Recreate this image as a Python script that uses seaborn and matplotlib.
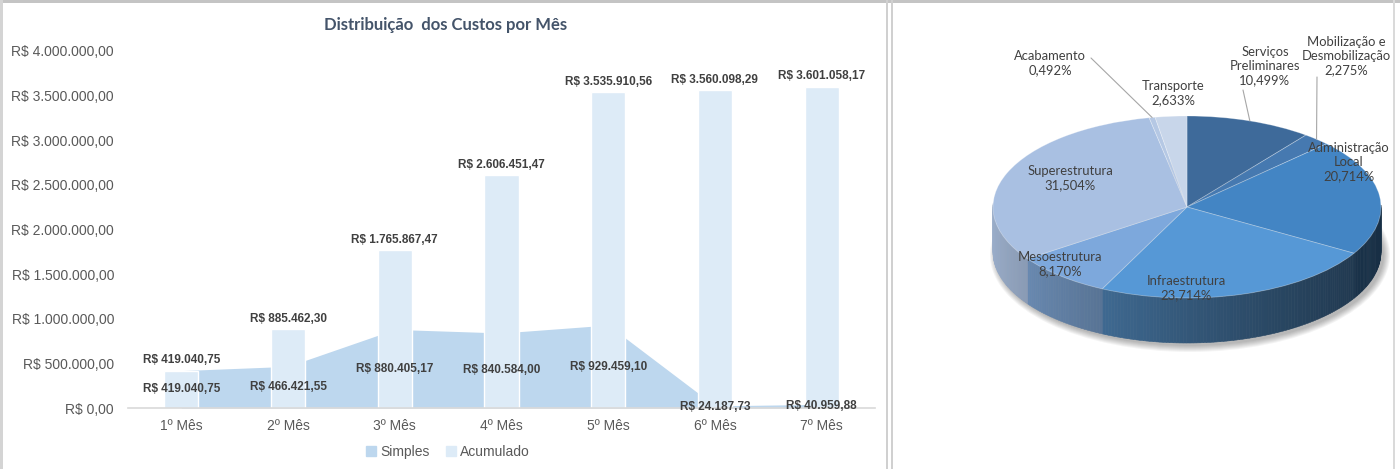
import numpy as np
import pandas as pd
import matplotlib
matplotlib.use("Agg")
import matplotlib.pyplot as plt
import seaborn as sns
from matplotlib.patches import Patch, Rectangle, Polygon, Ellipse
from matplotlib.transforms import Affine2D
from matplotlib.colors import to_rgb

# dados - custos por mes
meses = ["1º Mês", "2º Mês", "3º Mês", "4º Mês", "5º Mês", "6º Mês", "7º Mês"]
simples = [419040.75, 466421.55, 880405.17, 840584.00, 929459.10, 24187.73, 40959.88]
acumulado = [419040.75, 885462.30, 1765867.47, 2606451.47, 3535910.56, 3560098.29, 3601058.17]
y_ticks = [0, 500000, 1000000, 1500000, 2000000, 2500000, 3000000, 3500000, 4000000]

# dados - distribuicao por etapa
etapas = ["Serviços\nPreliminares", "Mobilização e\nDesmobilização", "Administração\nLocal",
          "Infraestrutura", "Mesoestrutura", "Superestrutura", "Acabamento", "Transporte"]
percentuais = [10.499, 2.275, 20.714, 23.714, 8.170, 31.504, 0.492, 2.633]
cores = ["#3E6A9A", "#4679B0", "#4385C4", "#5698D6", "#7DA8DC", "#A9C0E2", "#B5C8E4", "#C8D6EA"]


def brl(v):
    s = f"{v:,.2f}"
    return "R$ " + s.replace(",", "X").replace(".", ",").replace("X", ".")


sns.set_theme(style="white")
plt.rcParams["font.family"] = ["Liberation Sans", "DejaVu Sans"]

W, H = 1400, 469
fig = plt.figure(figsize=(W / 100, H / 100), dpi=100)

# molduras
fig.add_artist(Rectangle((0, 1 - 3 / H), 1, 3 / H, transform=fig.transFigure, color="#C4C4C4", lw=0))
fig.add_artist(Rectangle((0, 0), 3 / W, 1, transform=fig.transFigure, color="#D4D4D4", lw=0))
fig.add_artist(Rectangle((886 / W, 0), 2 / W, 1, transform=fig.transFigure, color="#D0D0D0", lw=0))
fig.add_artist(Rectangle((891 / W, 0), 2 / W, 1, transform=fig.transFigure, color="#D0D0D0", lw=0))
fig.add_artist(Rectangle((1393 / W, 0), 2 / W, 1, transform=fig.transFigure, color="#DADADA", lw=0))

# ---------------- grafico de colunas + area ----------------
ax = fig.add_axes([128 / W, 61 / H, 747 / W, 357 / H])
df = pd.DataFrame({"mes": meses, "simples": simples, "acumulado": acumulado})

sns.barplot(data=df, x="mes", y="acumulado", color="#DDEBF7", saturation=1,
            width=0.32, ax=ax, zorder=2)
ax.fill_between(np.arange(len(meses)), df["simples"], color="#BDD7EE", lw=0, zorder=1)

ax.set_xlim(-0.5, len(meses) - 0.5)
ax.set_ylim(0, 4000000)
ax.set_yticks(y_ticks)
ax.set_yticklabels([brl(v) for v in y_ticks])
ax.set_xlabel("")
ax.set_ylabel("")
ax.tick_params(axis="both", length=0, labelsize=10, labelcolor="#595959")
ax.tick_params(axis="y", pad=10)
ax.tick_params(axis="x", pad=8)
for s in ["top", "right", "left"]:
    ax.spines[s].set_visible(False)
ax.spines["bottom"].set_color("#D9D9D9")
ax.spines["bottom"].set_linewidth(1.2)

for i, v in enumerate(acumulado):
    ax.annotate(brl(v), (i, v), xytext=(0, 3), textcoords="offset points",
                ha="center", va="bottom", fontsize=8.5, fontweight="bold", color="#404040", zorder=5)
for i, v in enumerate(simples):
    ax.text(i, v / 2, brl(v), ha="center", va="center", fontsize=8.5,
            fontweight="bold", color="#404040", zorder=5)

fig.text(446 / W, 1 - 25 / H, "Distribuição  dos Custos por Mês", ha="center", va="center",
         fontsize=12, fontweight="bold", color="#44546A", family=["Lato", "DejaVu Sans"])

handles = [Patch(color="#BDD7EE", label="Simples"), Patch(color="#DDEBF7", label="Acumulado")]
leg = fig.legend(handles=handles, loc="center", bbox_to_anchor=(448 / W, 1 - 452 / H), ncol=2,
                 frameon=False, handlelength=0.7, handleheight=0.7, handletextpad=0.3,
                 columnspacing=1.2, fontsize=10)
for t in leg.get_texts():
    t.set_color("#595959")

# ---------------- pizza 3D ----------------
ax2 = fig.add_axes([893 / W, 0, 500 / W, 465 / H])
CX, CY = 1187, H - 207
RX, RY, DEPTH = 194, 91, 45

wedges, _ = ax2.pie(percentuais, startangle=90, counterclock=False, radius=RX, center=(CX, CY),
                    colors=cores, wedgeprops=dict(lw=0.6, edgecolor=(1, 1, 1, 0.3)))
ax2.set_xlim(893, 1393)
ax2.set_ylim(0, 465)
ax2.set_aspect("auto")
ax2.axis("off")

achata = Affine2D().translate(-CX, -CY).scale(1, RY / RX).translate(CX, CY)
for w in wedges:
    w.set_transform(achata + ax2.transData)
    w.set_zorder(3)


def borda(t, dy=0.0):
    r = np.radians(t)
    return (CX + RX * np.cos(r), CY + RY * np.sin(r) - dy)


# sombra
for k in range(7):
    ax2.add_patch(Ellipse((CX + 3, CY - DEPTH - 3), 2 * RX + 2 * k, 2 * RY + 2 * k,
                          color="black", alpha=0.045, lw=0, zorder=0))

# lateral
for w, c in zip(wedges, cores):
    base = np.array(to_rgb(c))
    ts = np.linspace(w.theta1, w.theta2, max(2, int((w.theta2 - w.theta1) / 1.0) + 2))
    for a, b in zip(ts[:-1], ts[1:]):
        m = np.radians((a + b) / 2)
        if np.sin(m) > 0.03:
            continue
        t = (np.cos(m) + 1) / 2
        f = 0.85 - 0.5 * t ** 0.7
        cor = np.clip(base * f + 0.04 * (1 - t), 0, 1)
        pts = [borda(a), borda(b), borda(b, DEPTH), borda(a, DEPTH)]
        ax2.add_patch(Polygon(pts, closed=True, facecolor=cor, edgecolor=cor, lw=0.4, zorder=1))

# rotulos
pos_rotulos = [(1265, 66), (1346, 56), (1349, 162), (1186, 288),
               (1060, 264), (1070, 178), (1050, 63), (1173, 93)]
for nome, p, (px, py) in zip(etapas, percentuais, pos_rotulos):
    ax2.text(px, H - py, f"{nome}\n{p:.3f}%".replace(".", ","), ha="center", va="center",
             fontsize=9.4, color="#404040", linespacing=1.2, zorder=6,
             family=["Lato", "DejaVu Sans"])

guias = {0: (1243, 90), 1: (1317, 77), 6: (1091, 58)}
for i, (px, py) in guias.items():
    w = wedges[i]
    ex, ey = borda((w.theta1 + w.theta2) / 2)
    ax2.plot([px, ex], [H - py, ey], color="#A6A6A6", lw=0.8, zorder=5)

fig.savefig("out.png", dpi=100)
